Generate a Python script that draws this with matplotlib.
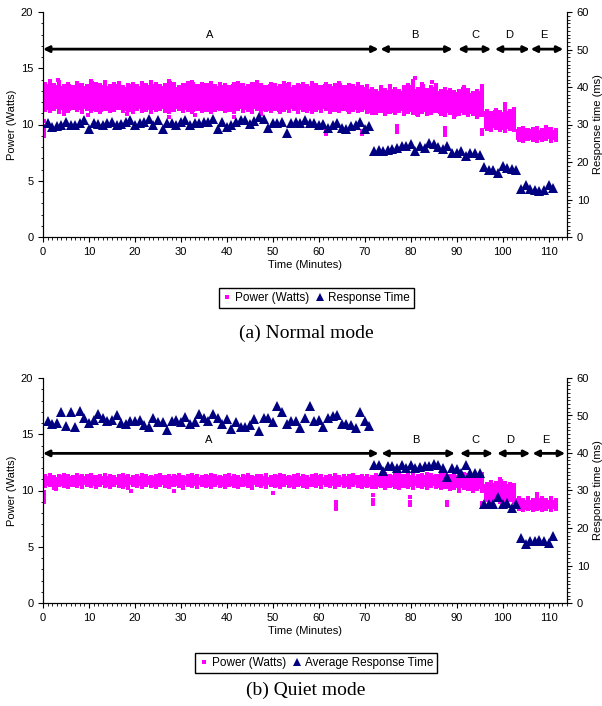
import numpy as np
import matplotlib
matplotlib.use('Agg')
import matplotlib.pyplot as plt
from matplotlib.lines import Line2D
from matplotlib.ticker import MultipleLocator

plt.rcParams['font.family'] = ['Liberation Sans', 'DejaVu Sans']

PINK = '#FF00FF'
NAVY = '#000080'

# ---------- data: normal mode ----------
# power band per minute (t .. t+1): upper / lower edge in Watts
top_hi = [13.6,13.9,13.5,13.8,13.4,13.6,13.3,13.7,13.5,13.4,
          13.9,13.6,13.5,13.8,13.4,13.6,13.7,13.3,13.5,13.6,
          13.4,13.7,13.5,13.8,13.6,13.4,13.5,13.9,13.6,13.3,
          13.5,13.7,13.8,13.4,13.6,13.5,13.7,13.4,13.6,13.5,
          13.3,13.6,13.7,13.5,13.4,13.6,13.8,13.5,13.3,13.6,
          13.5,13.4,13.7,13.6,13.3,13.5,13.6,13.4,13.7,13.5,
          13.3,13.6,13.4,13.5,13.7,13.3,13.5,13.4,13.6,13.3,
          13.4,13.2,
          13.0,13.3,13.1,13.4,13.2,13.0,13.3,13.5,13.9,13.2,
          13.6,13.1,13.3,13.5,13.0,13.2,13.1,12.9,13.0,13.3,
          13.1,12.8,13.0,13.4,
          11.2,11.0,11.3,11.1,11.8,11.2,11.4,
          9.6,9.7,9.5,9.6,9.7,9.5,9.8,9.6,9.5]
top_lo = [11.3,11.2,11.4,11.1,11.3,11.2,11.5,11.3,11.1,11.4,
          11.2,11.3,11.1,11.4,11.2,11.3,11.5,11.2,11.3,11.1,
          11.4,11.2,11.3,11.1,11.3,11.4,11.2,11.1,11.3,11.4,
          11.2,11.3,11.1,11.4,11.2,11.3,11.1,11.3,11.4,11.2,
          11.3,11.1,11.4,11.2,11.3,11.1,11.4,11.2,11.3,11.2,
          11.4,11.1,11.3,11.2,11.4,11.1,11.3,11.2,11.1,11.3,
          11.2,11.4,11.1,11.3,11.2,11.4,11.1,11.3,11.2,11.3,
          11.1,11.0,
          11.0,11.2,10.9,11.1,11.0,11.2,10.9,11.1,11.0,10.8,
          11.1,10.9,11.0,11.2,10.9,10.8,11.0,10.7,10.9,11.0,
          10.8,10.9,10.7,10.8,
          9.6,9.5,9.7,9.5,9.4,9.6,9.5,
          8.6,8.5,8.7,8.6,8.5,8.6,8.7,8.5,8.6]
# stray power samples outside the band
top_out_t = [0.2,0.2,0.2,0.2,0.2,3.2,4.6,9.8,18.3,27.5,33.0,41.5,47.5,
             61.5,61.5,69.4,69.4,77.1,77.1,77.1,80.9,84.7,87.5,87.5,87.5,95.4,95.4]
top_out_w = [9.0,9.3,9.6,9.9,10.3,14.0,10.9,10.8,10.9,10.7,10.8,10.7,10.9,
             9.2,9.4,9.2,9.4,9.3,9.6,9.9,14.1,13.8,9.1,9.4,9.7,9.2,9.5]
# response time (ms), one sample per minute from t = 1
top_rt = [30.4,29.3,29.6,29.8,30.6,30.0,30.0,30.4,31.2,28.7,
          30.3,30.2,29.9,30.3,30.6,29.8,30.2,30.6,31.2,29.9,
          30.3,30.8,31.6,30.0,31.2,28.9,30.3,30.4,30.0,30.6,
          31.1,29.8,30.3,30.3,30.6,30.8,31.6,28.8,30.6,29.3,
          29.9,30.8,31.3,31.3,30.2,31.0,32.1,31.6,29.1,30.3,
          30.4,30.6,27.8,30.3,30.7,30.3,31.3,30.3,30.4,30.0,
          30.2,29.1,30.0,30.3,29.1,28.8,29.6,30.0,30.6,28.7,
          29.6,
          23.0,23.2,22.9,23.2,23.5,23.8,24.2,24.2,24.7,23.0,
          24.4,23.8,25.1,24.7,24.0,23.5,24.2,
          22.4,22.3,22.9,21.7,22.4,22.3,22.0,
          18.6,18.0,18.0,17.1,18.9,18.4,18.2,17.8,
          12.9,14.0,12.7,12.5,12.2,12.5,14.0,13.1]

# ---------- data: quiet mode ----------
bot_hi = [11.3,11.4,11.2,11.3,11.4,11.3,11.2,11.4,11.3,11.3,
          11.4,11.2,11.3,11.4,11.3,11.2,11.3,11.4,11.3,11.2,
          11.3,11.4,11.3,11.2,11.3,11.4,11.2,11.3,11.3,11.4,
          11.2,11.3,11.4,11.3,11.2,11.3,11.4,11.3,11.2,11.3,
          11.4,11.3,11.2,11.3,11.4,11.2,11.3,11.3,11.4,11.2,
          11.3,11.4,11.3,11.2,11.3,11.4,11.3,11.2,11.3,11.4,
          11.3,11.2,11.3,11.4,11.2,11.3,11.3,11.4,11.2,11.3,
          11.3,11.2,
          11.4,11.3,11.5,11.3,11.4,11.5,11.3,11.4,11.5,11.3,
          11.4,11.5,11.4,11.3,11.5,11.4,11.3,11.4,11.3,11.5,
          11.4,11.3,11.4,11.5,
          10.6,10.8,10.7,11.0,10.7,10.6,10.5,
          9.3,9.2,9.3,9.2,9.7,9.3,9.2,9.3,9.2]
bot_lo = [10.4,10.5,10.2,10.5,10.4,10.3,10.5,10.4,10.3,10.5,
          10.4,10.3,10.5,10.4,10.3,10.5,10.4,10.3,10.2,10.5,
          10.4,10.3,10.5,10.4,10.3,10.5,10.4,10.3,10.5,10.4,
          10.2,10.5,10.4,10.3,10.5,10.4,10.3,10.5,10.4,10.3,
          10.5,10.4,10.3,10.5,10.4,10.2,10.5,10.4,10.3,10.5,
          10.4,10.3,10.5,10.4,10.3,10.5,10.4,10.3,10.5,10.4,
          10.3,10.5,10.4,10.3,10.5,10.4,10.3,10.5,10.4,10.3,
          10.4,10.3,
          10.3,10.4,10.2,10.4,10.3,10.2,10.4,10.3,10.2,10.4,
          10.3,10.2,10.4,10.3,10.2,10.3,10.1,10.2,10.0,10.2,
          10.1,10.0,10.1,10.0,
          9.2,9.1,9.2,9.0,9.1,9.2,9.0,
          8.4,8.3,8.4,8.3,8.4,8.3,8.4,8.3,8.4]
bot_out_t = [0.2,0.2,0.2,0.2,2.8,19.2,28.5,50.1,63.8,63.8,63.8,
             71.9,71.9,71.9,79.8,79.8,79.8,87.8,87.8,95.4,95.4]
bot_out_w = [9.0,9.3,9.6,9.9,10.1,10.0,10.0,9.8,8.4,8.7,9.0,
             8.8,9.2,9.6,8.7,9.0,9.4,8.7,9.0,8.7,8.9]
bot_rt = [48.5,47.6,48.0,50.9,47.1,50.9,46.9,51.1,49.4,48.0,
          48.7,50.5,49.4,48.5,48.7,50.0,48.0,47.8,48.4,48.5,
          48.9,47.4,46.8,49.4,48.2,48.2,46.1,48.4,48.9,48.3,
          49.6,47.6,48.3,50.3,49.4,48.4,50.3,49.4,47.6,49.1,
          46.3,48.2,46.9,46.9,47.4,49.1,45.9,49.4,49.4,48.2,
          52.4,50.9,47.6,48.5,48.6,46.6,49.3,52.4,48.6,48.8,
          46.8,49.3,49.9,50.2,47.7,47.7,47.5,46.6,50.8,48.6,
          47.3,
          36.9,36.9,35.3,36.6,36.6,36.0,36.9,36.0,36.9,36.0,
          36.3,36.6,36.6,37.1,36.9,36.0,33.6,
          36.0,35.8,34.7,36.9,34.7,34.7,34.7,
          26.3,26.3,26.5,28.3,26.3,26.7,25.4,26.3,
          17.3,15.8,16.5,16.5,16.7,16.5,16.1,17.9]

# phase arrows
phases = ['A', 'B', 'C', 'D', 'E']
top_start = [0.0, 73.4, 90.3, 98.3, 106.1]
top_end = [73.0, 89.1, 97.5, 105.9, 113.2]
bot_start = [0.0, 73.6, 90.7, 98.8, 106.5]
bot_end = [73.0, 89.6, 97.9, 106.0, 113.6]
top_lbl_x = [36.3, 80.9, 94.1, 101.5, 108.9]
bot_lbl_x = [36.1, 81.1, 94.1, 101.7, 109.3]

FS = 8


def panel(rect, hi, lo, out_t, out_w, rt, starts, ends, lbl_x, arrow_y, lbl_y):
    ax = fig.add_axes(rect)
    minutes = np.arange(len(hi))
    hi = np.array(hi)
    lo = np.array(lo)
    ax.bar(minutes, hi - lo, bottom=lo, width=1.0, align='edge',
           color=PINK, edgecolor='none', zorder=2)
    ax.plot(minutes + 0.5, hi, 's', color=PINK, ms=2.4, mew=0, zorder=2)
    ax.plot(minutes + 0.5, lo, 's', color=PINK, ms=2.4, mew=0, zorder=2)
    ax.plot(out_t, out_w, 's', color=PINK, ms=2.4, mew=0, zorder=2)
    ax.set_xlim(0, 114)
    ax.set_ylim(0, 20)
    ax.xaxis.set_major_locator(MultipleLocator(10))
    ax.xaxis.set_minor_locator(MultipleLocator(1))
    ax.yaxis.set_major_locator(MultipleLocator(5))
    ax.yaxis.set_minor_locator(MultipleLocator(1))
    ax.spines['top'].set_visible(False)
    ax.tick_params(which='major', direction='out', length=3.5, width=0.8, labelsize=FS)
    ax.tick_params(which='minor', direction='out', length=1.8, width=0.6)
    ax.set_xlabel('Time (Minutes)', fontsize=FS, labelpad=2)
    ax.set_ylabel('Power (Watts)', fontsize=FS, labelpad=3)

    for p, s, e, lx in zip(phases, starts, ends, lbl_x):
        ax.annotate('', xy=(e, arrow_y), xytext=(s, arrow_y),
                    arrowprops=dict(arrowstyle='<|-|>', color='black', lw=2,
                                    mutation_scale=9, shrinkA=0, shrinkB=0),
                    zorder=5)
        ax.text(lx, lbl_y, p, ha='center', va='center', fontsize=FS)

    ax2 = ax.twinx()
    ax2.plot(np.arange(1, len(rt) + 1), rt, '^', color=NAVY, ms=7, mew=0, zorder=3)
    ax2.set_ylim(0, 60)
    ax2.set_xlim(0, 114)
    ax2.yaxis.set_major_locator(MultipleLocator(10))
    ax2.yaxis.set_minor_locator(MultipleLocator(1))
    ax2.spines['top'].set_visible(False)
    ax2.tick_params(which='major', direction='out', length=3.5, width=0.8, labelsize=FS)
    ax2.tick_params(which='minor', direction='out', length=1.8, width=0.6)
    ax2.set_ylabel('Response time (ms)', fontsize=FS, labelpad=3)
    return ax, ax2


fig = plt.figure(figsize=(6.02, 7.06), dpi=100)
W = 524 / 602
H = 225 / 706
panel([43 / 602, 1 - 237 / 706, W, H], top_hi, top_lo, top_out_t, top_out_w,
      top_rt, top_start, top_end, top_lbl_x, 16.7, 17.95)
panel([43 / 602, 1 - 603 / 706, W, H], bot_hi, bot_lo, bot_out_t, bot_out_w,
      bot_rt, bot_start, bot_end, bot_lbl_x, 13.3, 14.45)


def legend(y, rt_name):
    h = [Line2D([], [], marker='s', color=PINK, ls='none', ms=3, mew=0),
         Line2D([], [], marker='^', color=NAVY, ls='none', ms=6, mew=0)]
    fig.legend(h, ['Power (Watts)', rt_name], loc='center', bbox_to_anchor=(0.525, y),
               ncol=2, fontsize=8.5, frameon=True, fancybox=False, edgecolor='black',
               handlelength=0.8, handletextpad=0.3, columnspacing=0.5,
               borderpad=0.3, framealpha=1)


legend(1 - 298 / 706, 'Response Time')
legend(1 - 663 / 706, 'Average Response Time')

fig.text(0.508, 1 - 333 / 706, '(a) Normal mode', ha='center', va='center',
         fontsize=14, family='Liberation Serif')
fig.text(0.508, 1 - 690 / 706, '(b) Quiet mode', ha='center', va='center',
         fontsize=14, family='Liberation Serif')

fig.savefig('out.png', dpi=100)
